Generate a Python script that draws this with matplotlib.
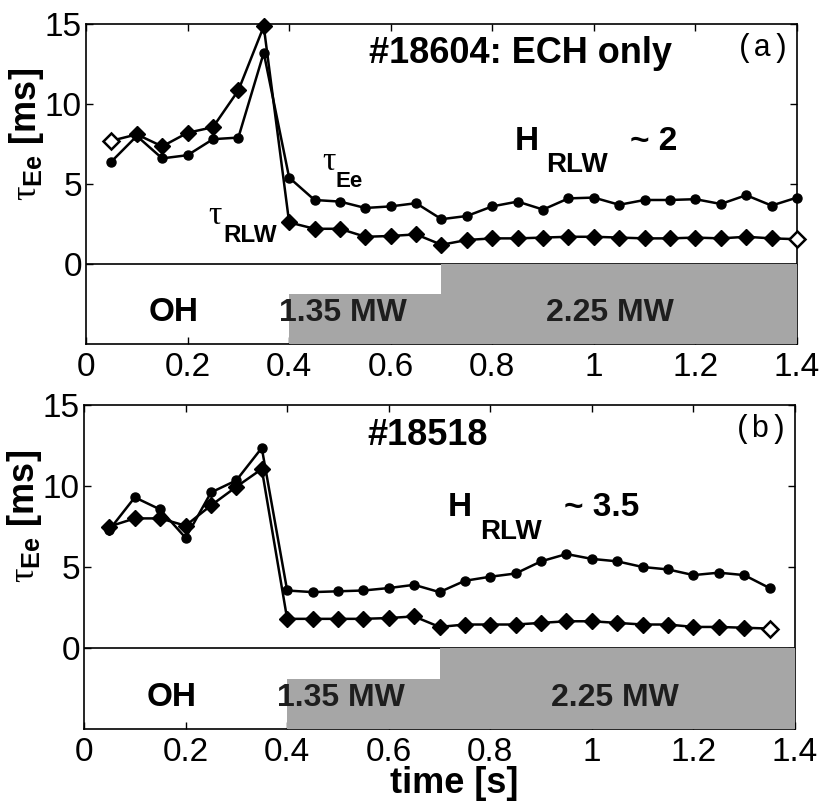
import numpy as np
import matplotlib
matplotlib.use('Agg')
import matplotlib.pyplot as plt

plt.rcParams['font.family'] = ['Liberation Sans', 'DejaVu Sans']
plt.rcParams['mathtext.fontset'] = 'custom'
plt.rcParams['mathtext.rm'] = 'Liberation Serif'
plt.rcParams['mathtext.bf'] = 'Liberation Sans:bold'

# time axis (s)
time_a = [0.05, 0.10, 0.15, 0.20, 0.25, 0.30, 0.35, 0.40, 0.45, 0.50, 0.55, 0.60, 0.65, 0.70,
          0.75, 0.80, 0.85, 0.90, 0.95, 1.00, 1.05, 1.10, 1.15, 1.20, 1.25, 1.30, 1.35, 1.40]
time_b = time_a[:-1]

# shot #18604 (ECH only)
tau_ee_a = [6.4, 8.0, 6.6, 6.8, 7.8, 7.9, 13.2, 5.4, 4.0, 3.9, 3.5, 3.6, 3.8, 2.8,
            3.0, 3.6, 3.9, 3.4, 4.1, 4.15, 3.7, 4.0, 4.0, 4.05, 3.75, 4.3, 3.65, 4.15]
tau_rlw_a = [7.7, 8.1, 7.35, 8.2, 8.55, 10.85, 14.85, 2.6, 2.2, 2.2, 1.7, 1.75, 1.85, 1.2,
             1.5, 1.6, 1.6, 1.65, 1.7, 1.7, 1.65, 1.6, 1.6, 1.65, 1.6, 1.7, 1.6, 1.55]

# shot #18518
tau_ee_b = [7.3, 9.3, 8.55, 6.8, 9.6, 10.35, 12.35, 3.55, 3.45, 3.5, 3.55, 3.7, 3.9, 3.45,
            4.15, 4.4, 4.6, 5.35, 5.8, 5.5, 5.35, 5.0, 4.85, 4.5, 4.65, 4.5, 3.7]
tau_rlw_b = [7.5, 8.0, 8.0, 7.55, 8.8, 9.95, 11.05, 1.8, 1.8, 1.8, 1.8, 1.85, 1.95, 1.3,
             1.45, 1.45, 1.45, 1.55, 1.65, 1.65, 1.55, 1.45, 1.45, 1.3, 1.3, 1.25, 1.2]

# heating power phases: start, end, top of grey bar
power_start = [0.4, 0.7]
power_end = [0.7, 1.4]
power_top = [-1.9, 0.0]
power_labels = ['1.35 MW', '2.25 MW']

fig = plt.figure(figsize=(8.27, 8.05), dpi=100)
ax_a = fig.add_axes([0.104, 0.5727, 0.8597, 0.3975])
ax_b = fig.add_axes([0.1016, 0.0944, 0.8597, 0.4025])

grey = '#a6a6a6'
tick_font = ['Liberation Sans Narrow', 'Liberation Sans']


def draw_panel(ax, t, tau_ee, tau_rlw, shot, tag, h_val, h_pos, lab2_x, hollow):
    ax.plot(t, tau_ee, color='black', lw=1.8, marker='o', ms=6.5, zorder=5,
            clip_on=False)
    ax.plot(t, tau_rlw, color='black', lw=1.8, marker='D', ms=8, zorder=4,
            clip_on=False)
    for i in hollow:
        ax.plot(t[i], tau_rlw[i], marker='D', ms=8, mfc='white', mec='black',
                mew=1.8, zorder=6, clip_on=False)
    ax.axhline(0, color='black', lw=1.2, zorder=3)
    for s, e, top in zip(power_start, power_end, power_top):
        ax.fill_between([s, e], -5, top, color=grey, lw=0, zorder=3.1)
    ax.set_xlim(0, 1.4)
    ax.set_ylim(-5, 15)
    ax.set_xticks([0, 0.2, 0.4, 0.6, 0.8, 1.0, 1.2, 1.4])
    ax.set_xticklabels(['0', '0.2', '0.4', '0.6', '0.8', '1', '1.2', '1.4'])
    ax.set_yticks([0, 5, 10, 15])
    ax.tick_params(direction='in', top=True, right=True, length=5, width=1,
                   labelsize=24)
    ax.tick_params(axis='x', pad=6)
    ax.tick_params(axis='y', pad=3)
    for lab in ax.get_xticklabels() + ax.get_yticklabels():
        lab.set_family(tick_font)
    for sp in ax.spines.values():
        sp.set_linewidth(1.2)

    ax.set_ylabel(r'$\mathrm{\tau}_{\mathbf{Ee}}$ [ms]', fontsize=26, fontweight='bold')
    ax.yaxis.set_label_coords(-0.056, 0.655)

    ax.text(0.557, 12.55, shot, fontsize=26, fontweight='bold', ha='left',
            va='baseline', zorder=7)
    ax.text(1.333, 13.5, tag, fontsize=22, family='Liberation Mono', ha='center',
            va='center', zorder=7)

    hx, hy = h_pos
    ax.text(hx, hy, 'H', fontsize=24, fontweight='bold', ha='left', va='baseline')
    ax.text(hx + 0.063, hy - 1.4, 'RLW', fontsize=20, fontweight='bold', ha='left',
            va='baseline')
    ax.text(hx + 0.228, hy, h_val, fontsize=24, fontweight='bold', ha='left',
            va='baseline')

    ax.text(0.172, -3.55, 'OH', fontsize=24, fontweight='bold', ha='center',
            va='baseline', zorder=7)
    ax.text(0.505, -3.55, power_labels[0], fontsize=23, fontweight='bold',
            color='#1e1e1e', ha='center', va='baseline', zorder=7)
    ax.text(lab2_x, -3.55, power_labels[1], fontsize=23, fontweight='bold',
            color='#1e1e1e', ha='center', va='baseline', zorder=7)


draw_panel(ax_a, time_a, tau_ee_a, tau_rlw_a, '#18604: ECH only', '(a)', '~ 2',
           (0.844, 7.15), 1.032, [0, len(time_a) - 1])
draw_panel(ax_b, time_b, tau_ee_b, tau_rlw_b, '#18518', '(b)', '~ 3.5',
           (0.717, 8.15), 1.045, [len(time_b) - 1])

# curve labels in panel (a)
ax_a.text(0.465, 5.9, r'$\mathrm{\tau}$', fontsize=24, ha='left', va='baseline')
ax_a.text(0.492, 4.8, 'Ee', fontsize=16, fontweight='bold', ha='left', va='baseline')
ax_a.text(0.240, 2.5, r'$\mathrm{\tau}$', fontsize=24, ha='left', va='baseline')
ax_a.text(0.270, 1.37, 'RLW', fontsize=17.5, fontweight='bold', ha='left',
          va='baseline')

ax_b.set_xlabel('time [s]', fontsize=26, fontweight='bold')
ax_b.xaxis.set_label_coords(0.52, -0.115)

fig.savefig('out.png', dpi=100)
